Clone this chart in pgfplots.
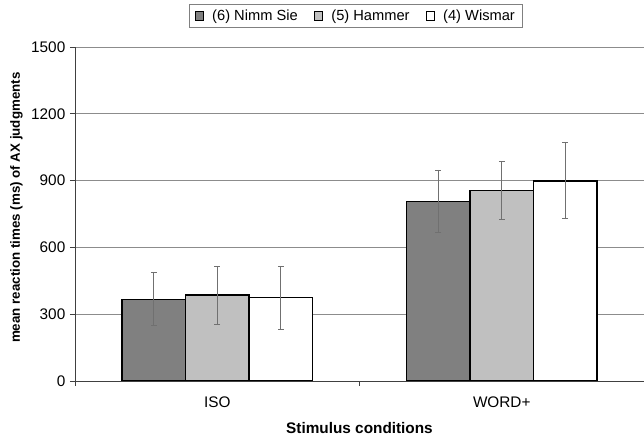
\documentclass[border=0pt]{standalone}
\usepackage{fontspec}
\setmainfont{Liberation Sans}
\usepackage{pgfplots}
\pgfplotsset{compat=1.18}

\definecolor{bardark}{HTML}{808080}
\definecolor{barlight}{HTML}{C0C0C0}
\definecolor{errgray}{HTML}{707070}

\pgfplotsset{
  errs/.style={
    error bars/y dir=both, error bars/y explicit,
    error bars/error bar style={draw=errgray, line width=0.6pt},
    error bars/error mark options={rotate=90, mark size=2.2pt, draw=errgray, line width=0.6pt},
  },
}

\begin{document}
\begin{tikzpicture}
\begin{axis}[
  at={(56.25pt,40.5pt)}, anchor=south west,
  width=426.75pt, height=250.5pt, scale only axis,
  ybar=0pt, bar width=0.2232,
  xmin=0, xmax=2, ymin=0, ymax=1500,
  ytick={0,300,...,1500},
  xtick={0,1,2}, xticklabels={,,},
  extra x ticks={0.5,1.5},
  extra x tick labels={ISO,WORD+},
  extra x tick style={major tick length=0pt, grid=none},
  xticklabel shift=8pt,
  axis lines*=left,
  axis line style={draw=black!75, line width=0.6pt},
  tick align=outside,
  major tick length=3.75pt,
  tick style={draw=black!75, line width=0.6pt},
  ymajorgrids, xmajorgrids=false,
  grid style={draw=black!45, line width=0.6pt},
  ticklabel style={font=\fontsize{11.5}{13}\selectfont},
  /pgf/number format/assume math mode=true,
  /pgf/number format/1000 sep={},
  ylabel={mean reaction times (ms) of AX judgments},
  xlabel={Stimulus conditions},
  every axis y label/.style={at={(axis description cs:0,0.519)}, rotate=90, anchor=center, yshift=44pt, font=\bfseries\fontsize{10}{11}\selectfont},
  every axis x label/.style={at={(axis description cs:0.5,0)}, anchor=center, yshift=-35.25pt, font=\bfseries\fontsize{11.5}{13}\selectfont},
  legend columns=3,
  legend style={at={(axis description cs:0.494,1)}, anchor=south, yshift=14.25pt,
    draw=black!50, line width=0.6pt, font=\fontsize{11}{12}\selectfont,
    inner xsep=4pt, inner ysep=2pt,
    /tikz/every odd column/.append style={column sep=4pt},
    /tikz/every even column/.append style={column sep=10pt}},
  legend image code/.code={\draw[#1, line width=0.8pt] (0pt,-3.2pt) rectangle (6.4pt,3.2pt);},
]
\addplot[fill=bardark, draw=black, line width=1.1pt, errs] coordinates {
  (0.5,367) +- (0,119)
  (1.5,807) +- (0,141)
};
\addplot[fill=barlight, draw=black, line width=1.1pt, errs] coordinates {
  (0.5,386) +- (0,130)
  (1.5,855) +- (0,129)
};
\addplot[fill=white, draw=black, line width=1.1pt, errs] coordinates {
  (0.5,374) +- (0,141)
  (1.5,899) +- (0,171)
};
\legend{(6) Nimm Sie, (5) Hammer, (4) Wismar}
\end{axis}
\pgfresetboundingbox
\path[use as bounding box] (0pt,0pt) rectangle (483pt,326.25pt);
\end{tikzpicture}
\end{document}
